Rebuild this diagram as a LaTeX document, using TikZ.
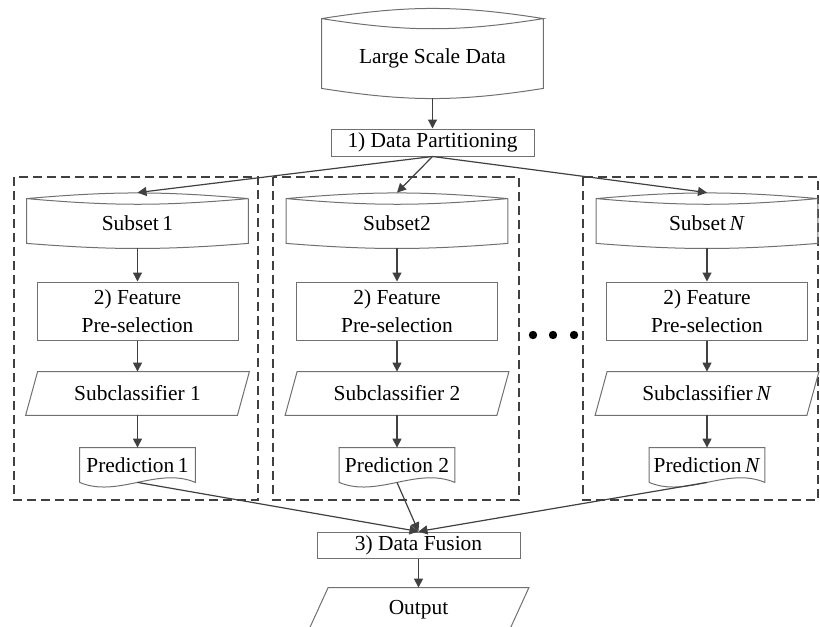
\documentclass[tikz,border=0pt]{standalone}
\usepackage{fontspec}
\setmainfont{Liberation Serif}
\usetikzlibrary{arrows.meta}
\definecolor{linegray}{HTML}{404040}
\definecolor{boxgray}{HTML}{707070}

\begin{document}
\begin{tikzpicture}[x=0.5pt, y=-0.5pt, every node/.style={inner sep=0pt, align=center, font=\fontsize{10.7}{14}\selectfont}, blk/.style={draw=boxgray, line width=0.5pt}, shapeline/.style={draw=boxgray, line width=0.5pt}, conn/.style={draw=linegray, line width=0.6pt, -{Triangle[length=4.5pt, width=4.5pt]}}, cellframe/.style={draw=linegray, line width=1pt, dash pattern=on 4.5pt off 2.5pt}]
	\useasboundingbox (0,0) rectangle (820,627);
	% top of the flow
	\node[minimum width=110.5pt, minimum height=39.5pt] (data) at (432.5,58.5) {Large Scale Data};
	\draw[shapeline] (data.north west) to[bend left=9] (data.north east) to[bend left=9] (data.north west) -- ([yshift=5pt]data.south west) to[bend right=9] ([yshift=5pt]data.south east) -- (data.north east);
	\node[blk, minimum width=101.5pt, minimum height=13.5pt] (part) at (432.5,142.5) {1) Data Partitioning};
	\draw[conn] (data.south) -- (part);
	\node[blk, minimum width=101.5pt, minimum height=13pt] (fuse) at (418.5,545) {3) Data Fusion};
	% one column per subset
	\foreach \x/\i/\l/\r/\s/\c/\p in {137.5/1/14/258/{Subset\,1}/{Subclassifier 1}/{Prediction\,1}, 397/2/273/519/{Subset2}/{Subclassifier 2}/{Prediction 2}, 707/N/583/818/{Subset\,\textit{N}}/{Subclassifier\,\textit{N}}/{Prediction\,\textit{N}}}{
		\draw[cellframe] (\l,177) rectangle (\r,500);
		\node[minimum width=110.5pt, minimum height=24.5pt] (sub\i) at (\x,223.5) {\s};
		\draw[shapeline] (sub\i.north west) to[bend left=5] (sub\i.north east) to[bend left=5] (sub\i.north west) -- ([yshift=2.5pt]sub\i.south west) to[bend right=4.5] ([yshift=2.5pt]sub\i.south east) -- (sub\i.north east);
		\node[blk, minimum width=100.5pt, minimum height=29pt] (feat\i) at (\x,311) {2) Feature\\Pre-selection};
		\node[minimum width=111.5pt, minimum height=21.5pt] (cls\i) at (\x,393.5) {\c};
		\draw[shapeline] ([xshift=6pt]cls\i.north west) -- (cls\i.north east) -- ([xshift=-6pt]cls\i.south east) -- (cls\i.south west) -- cycle;
		\node[minimum width=57.5pt, minimum height=17pt] (pred\i) at (\x,465) {\p};
		\draw[shapeline] (pred\i.south west) -- (pred\i.north west) -- (pred\i.north east) -- (pred\i.south east) .. controls +(-38,-16) and +(38,16) .. (pred\i.south west);
		\draw[conn] (part.south) -- ([yshift=3pt]sub\i.north);
		\draw[conn] (sub\i.south) -- (feat\i);
		\draw[conn] (feat\i) -- (cls\i);
		\draw[conn] (cls\i) -- (pred\i);
		\draw[conn] (pred\i.south) -- (fuse.north);
	}
	\foreach \x in {533,553,574}
		\fill[black] (\x,335) circle[radius=2.1pt];
	% result
	\node[minimum width=110pt, minimum height=21.5pt] (out) at (418.5,609.5) {Output};
	\draw[shapeline] ([xshift=10pt]out.north west) -- (out.north east) -- ([xshift=-10pt]out.south east) -- (out.south west) -- cycle;
	\draw[conn] (fuse) -- (out);
\end{tikzpicture}
\end{document}
